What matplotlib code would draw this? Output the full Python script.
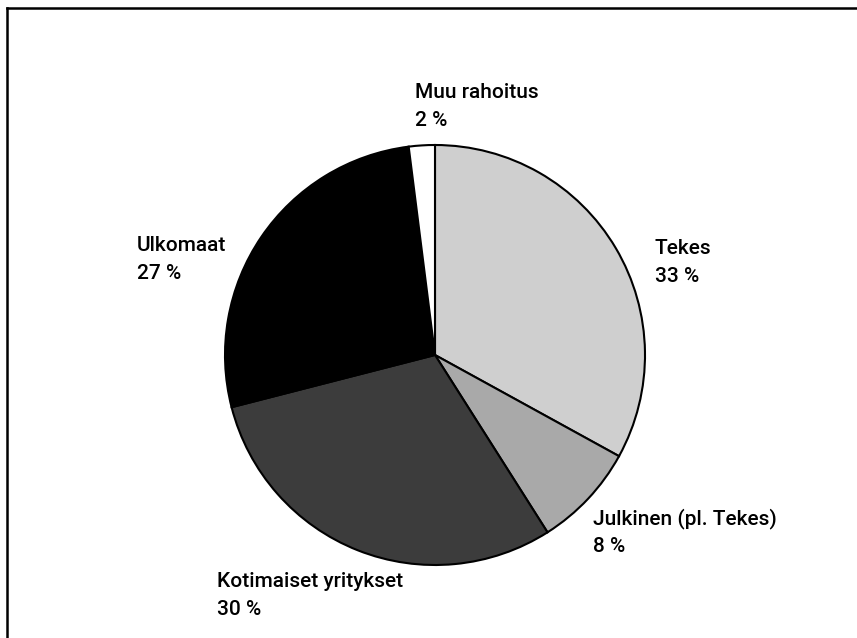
import matplotlib
matplotlib.use("Agg")
import matplotlib.pyplot as plt
from matplotlib.lines import Line2D

categories = ["Tekes", "Julkinen (pl. Tekes)", "Kotimaiset yritykset", "Ulkomaat", "Muu rahoitus"]
values = [33, 8, 30, 27, 2]
value_labels = ["33 %", "8 %", "30 %", "27 %", "2 %"]
colors = ["#cfcfcf", "#a9a9a9", "#3c3c3c", "#000000", "#ffffff"]

W, H = 857, 638
fam = ["Roboto", "DejaVu Sans"]

fig = plt.figure(figsize=(W / 100, H / 100), dpi=100)
ax = fig.add_axes([0, 0, 1, 1])

cx, cy, r = 435, H - 355, 210
ax.pie(values, colors=colors, startangle=90, counterclock=False,
       center=(cx, cy), radius=r, frame=True,
       wedgeprops=dict(edgecolor="black", linewidth=1.5))
ax.set_xlim(0, W)
ax.set_ylim(0, H)
ax.set_aspect("equal")
ax.axis("off")

# label anchors: left x and first-line baseline (pixel coords from top-left)
label_pos = [(655, 254), (593, 524), (217, 587), (137, 251), (415, 98)]
for name, val, (x, y) in zip(categories, value_labels, label_pos):
    ax.text(x, H - y, name, ha="left", va="baseline", fontsize=15, family=fam,
            weight="medium", color="black")
    ax.text(x, H - y - 28, val, ha="left", va="baseline", fontsize=15, family=fam,
            weight="medium", color="black")

# frame (top and left)
fig.add_artist(Line2D([7 / W, 1], [1 - 8 / H, 1 - 8 / H], color="black", lw=1.8, transform=fig.transFigure))
fig.add_artist(Line2D([7 / W, 7 / W], [0, 1 - 8 / H], color="black", lw=1.8, transform=fig.transFigure))

fig.savefig("out.png", dpi=100)
